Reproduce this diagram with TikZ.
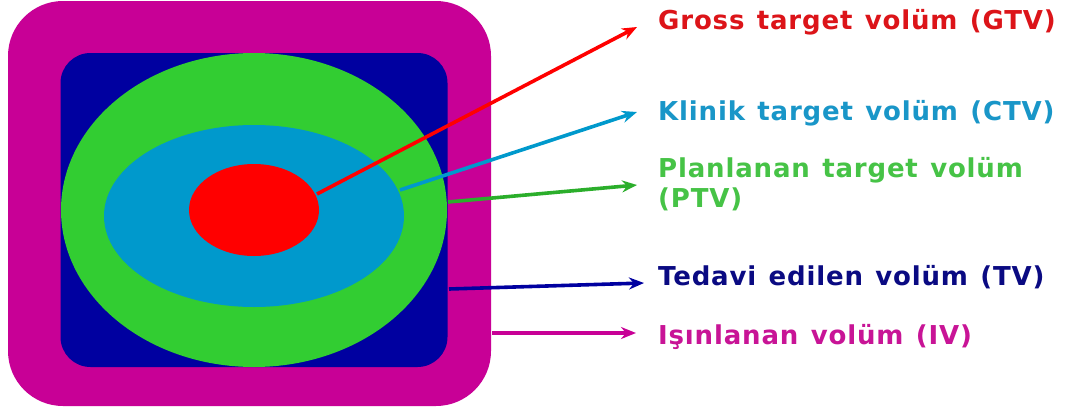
\documentclass[tikz,border=0pt]{standalone}
\usepackage{fontspec}
\setmainfont{DejaVu Sans}
\newfontfamily\lblfont{DejaVu Sans Bold}[LetterSpace=3.2,WordSpace=1.25]
\usetikzlibrary{shapes.geometric,arrows.meta}
\definecolor{cMag}{RGB}{200,0,150}
\definecolor{cNavy}{RGB}{0,0,160}
\definecolor{cGreen}{RGB}{50,205,50}
\definecolor{cCyan}{RGB}{0,153,204}
\definecolor{cRed}{RGB}{255,0,0}
\definecolor{tRed}{RGB}{220,20,25}
\definecolor{tCyan}{RGB}{25,150,200}
\definecolor{tGreen}{RGB}{70,195,70}
\definecolor{tNavy}{RGB}{10,10,130}
\definecolor{tMag}{RGB}{200,20,150}
\tikzset{
  blob/.style={ellipse,inner sep=0pt,draw=none},
  lbl/.style={anchor=west,inner sep=0pt,font=\lblfont\fontsize{26}{30}\selectfont,align=left},
  arr/.style={line width=3.6pt,-{Stealth[length=15pt,width=12pt]}},
}
\begin{document}
\begin{tikzpicture}[x=1pt,y=-1pt]
\useasboundingbox (0,0) rectangle (1074,410);
\fill[white] (0,0) rectangle (1074,410);
% outer volumes
\node[fill=cMag,minimum width=483pt,minimum height=405pt,rounded corners=55pt,inner sep=0pt,draw=none] (iv) at (249.5,203.5) {};
\node[fill=cNavy,minimum width=387pt,minimum height=314pt,rounded corners=30pt,inner sep=0pt,draw=none] (tv) at (254,210) {};
\node[blob,fill=cGreen,minimum width=386pt,minimum height=314pt] (ptv) at (254,210) {};
\node[blob,fill=cCyan,minimum width=300pt,minimum height=182pt] (ctv) at (254,216) {};
\node[blob,fill=cRed,minimum width=130pt,minimum height=92pt] (gtv) at (254,210) {};
% labels
\node[lbl,text=tRed] (lg) at (658,22) {Gross target volüm (GTV)};
\node[lbl,text=tCyan] (lc) at (658,113) {Klinik target volüm (CTV)};
\node[lbl,text=tGreen,anchor=north west] (lp) at (658,157) {Planlanan target volüm\\(PTV)};
\node[lbl,text=tNavy] (lt) at (658,277) {Tedavi edilen volüm (TV)};
\node[lbl,text=tMag] (li) at (658,337) {Işınlanan volüm (IV)};
% arrow start/end points
\coordinate (sg) at (317,194);
\coordinate (eg) at (637,27);
\coordinate (sc) at (400,190);
\coordinate (ec) at (637,112);
\coordinate (sp) at (448,202);
\coordinate (ep) at (637,185);
\coordinate (st) at (449,289);
\coordinate (et) at (644,283);
\coordinate (si) at (492,333);
\coordinate (ei) at (636,333);
\draw[arr,cRed] (sg) -- (eg);
\draw[arr,cCyan] (sc) -- (ec);
\draw[arr,cGreen!85!black] (sp) -- (ep);
\draw[arr,cNavy] (st) -- (et);
\draw[arr,cMag] (si) -- (ei);
\end{tikzpicture}
\end{document}
